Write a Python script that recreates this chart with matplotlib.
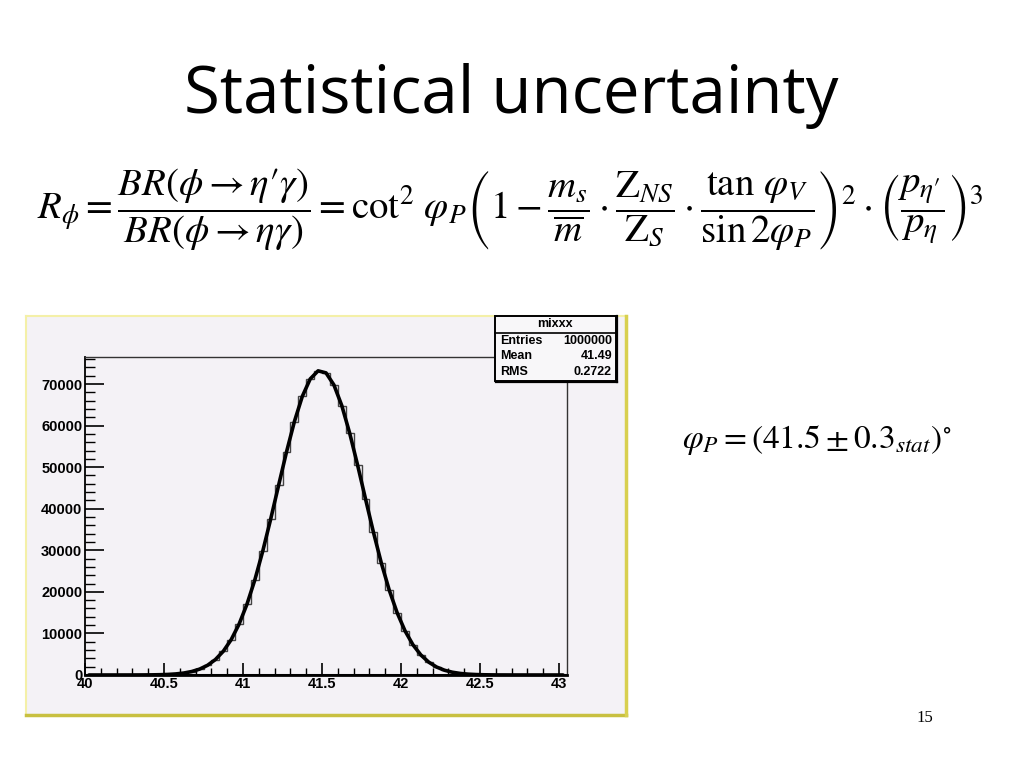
import numpy as np
import matplotlib.pyplot as plt
from matplotlib.patches import Rectangle
from matplotlib.lines import Line2D
from matplotlib.ticker import MultipleLocator

# histogram "mixxx": 61 bins of 0.05 from 40 to 43.05 (counts)
bin_edges = np.round(np.arange(40.0, 43.0501, 0.05), 3)
counts = [0, 0, 0, 1, 1, 3, 8, 17, 35, 70,
          137, 258, 469, 830, 1413, 2326, 3708, 5709, 8500, 12240,
          17040, 22920, 29830, 37520, 45620, 53640, 60970, 67020, 71220, 73170,
          72680, 69790, 64800, 58160, 50480, 42360, 34370, 26950, 20440, 14990,
          10620, 7280, 4825, 3090, 1913, 1145, 663, 371, 200, 105,
          53, 26, 12, 5, 2, 0, 0, 0, 0, 0, 0]
bin_centers = (bin_edges[:-1] + bin_edges[1:]) / 2

stats_title = 'mixxx'
stats_rows = [('Entries', '1000000'), ('Mean', '41.49'), ('RMS', '0.2722')]

W, H = 1024, 768
plt.rcParams['mathtext.fontset'] = 'stix'
fig = plt.figure(figsize=(W / 100, H / 100), dpi=100)
fig.patch.set_facecolor('white')

def fx(x):
    return x / W

def fy(y):
    return 1 - y / H

# slide title
fig.text(fx(511), fy(113), 'Statistical uncertainty', ha='center', va='baseline',
         fontsize=47, family='Open Sans')

# main formula
formula = (r"$R_{\phi}=\dfrac{BR(\phi\rightarrow\eta\prime\gamma)}{BR(\phi\rightarrow\eta\gamma)}"
           r"=\cot^{2}\,\varphi_{P}\left(1-\dfrac{m_{s}}{\overline{m}}\cdot\dfrac{\mathrm{Z}_{NS}}{\mathrm{Z}_{S}}"
           r"\cdot\dfrac{\tan\,\varphi_{V}}{\sin2\varphi_{P}}\right)^{2}\cdot\left(\dfrac{p_{\eta\prime}}{p_{\eta}}\right)^{3}$")
fig.text(fx(510), fy(210), formula, ha='center', va='center', fontsize=28)

# result
fig.text(fx(817), fy(440), r'$\varphi_{P}=\left(41.5\pm0.3_{stat}\right)^{\circ}$',
         ha='center', va='center', fontsize=24)

# page number
fig.text(fx(925), fy(718), '15', ha='center', va='center', fontsize=12, family='Liberation Serif')

# ROOT canvas background and bevelled yellow border
canvas_bg = '#f4f2f6'
fig.patches.append(Rectangle((fx(26), fy(715)), fx(600), 399 / H, transform=fig.transFigure,
                             facecolor=canvas_bg, edgecolor='none', zorder=-5))
fig.lines.append(Line2D([fx(26), fx(626)], [fy(316), fy(316)], transform=fig.transFigure, color='#f4f0a8', lw=1.5, zorder=-4))
fig.lines.append(Line2D([fx(26), fx(26)], [fy(316), fy(715)], transform=fig.transFigure, color='#f4f0a8', lw=1.5, zorder=-4))
fig.lines.append(Line2D([fx(26), fx(626)], [fy(715), fy(715)], transform=fig.transFigure, color='#c8c040', lw=2.5, zorder=-4))
fig.lines.append(Line2D([fx(626), fx(626)], [fy(316), fy(715)], transform=fig.transFigure, color='#d8d050', lw=2.5, zorder=-4))

# histogram frame
ax = fig.add_axes([fx(85), fy(675), (567 - 85) / W, (675 - 357) / H])
ax.set_facecolor(canvas_bg)
ax.stairs(counts, bin_edges, color='#444444', lw=1.0)
ax.plot(bin_centers, counts, color='black', lw=2.6, solid_capstyle='round')
ax.plot([bin_edges[0], bin_edges[-1]], [0, 0], color='black', lw=2.2)

ax.set_xlim(40, 43.05)
ax.set_ylim(0, 76500)
ax.xaxis.set_minor_locator(MultipleLocator(0.1))
ax.yaxis.set_minor_locator(MultipleLocator(2000))
ax.set_xticks([40, 40.5, 41, 41.5, 42, 42.5, 43])
ax.set_xticklabels(['40', '40.5', '41', '41.5', '42', '42.5', '43'])
ax.set_yticks(range(0, 70001, 10000))
ax.set_yticklabels([str(v) for v in range(0, 70001, 10000)])
ax.tick_params(which='major', direction='in', length=14, width=1.2, labelsize=10.5, pad=2)
ax.tick_params(axis='x', which='major', length=9, pad=1.5)
ax.tick_params(axis='x', which='minor', direction='in', length=5, width=1.0)
ax.tick_params(axis='y', which='minor', direction='in', length=7, width=1.0)
for lab in ax.get_xticklabels() + ax.get_yticklabels():
    lab.set_fontweight('bold')
    lab.set_family('Liberation Sans')
for side in ['left', 'bottom']:
    ax.spines[side].set_color('black')
ax.spines['left'].set_linewidth(1.3)
ax.spines['bottom'].set_linewidth(2.0)
for side in ['top', 'right']:
    ax.spines[side].set_color('#333333')
    ax.spines[side].set_linewidth(1.0)

# stats box
fig.patches.append(Rectangle((fx(495), fy(381)), fx(121), 65 / H, transform=fig.transFigure,
                             facecolor='#f8f7f9', edgecolor='black', lw=1.4, zorder=5))
fig.lines.append(Line2D([fx(496), fx(617)], [fy(382), fy(382)], transform=fig.transFigure, color='black', lw=1.6, zorder=6))
fig.lines.append(Line2D([fx(617), fx(617)], [fy(316), fy(382)], transform=fig.transFigure, color='black', lw=1.6, zorder=6))
fig.lines.append(Line2D([fx(495), fx(616)], [fy(333), fy(333)], transform=fig.transFigure, color='black', lw=1.2, zorder=6))
fig.text(fx(555), fy(324), stats_title, ha='center', va='center', fontsize=9,
         fontweight='bold', family='Liberation Sans', zorder=7)
for i, (name, val) in enumerate(stats_rows):
    yy = fy(341 + 15.5 * i)
    fig.text(fx(500), yy, name, ha='left', va='center', fontsize=9,
             fontweight='bold', family='Liberation Sans', zorder=7)
    fig.text(fx(612), yy, val, ha='right', va='center', fontsize=9,
             fontweight='bold', family='Liberation Sans', zorder=7)

fig.savefig('out.png', dpi=100)
